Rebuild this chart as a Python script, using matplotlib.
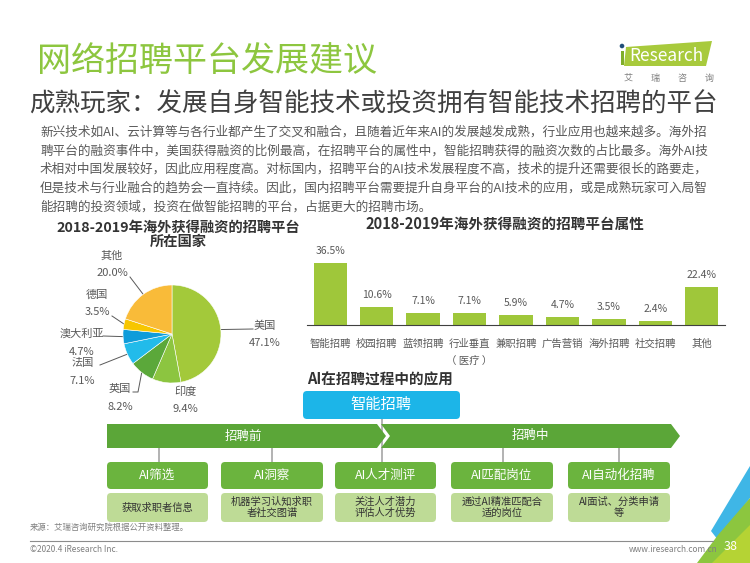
import numpy as np
import matplotlib
matplotlib.use("Agg")
import matplotlib.pyplot as plt
from matplotlib.patches import Polygon, FancyBboxPatch, Rectangle, Circle

plt.rcParams["font.family"] = ["Noto Sans CJK SC", "DejaVu Sans"]

# ---- data ----
title = "网络招聘平台发展建议"
subtitle = "成熟玩家：发展自身智能技术或投资拥有智能技术招聘的平台"
paragraph = [
    "新兴技术如AI、云计算等与各行业都产生了交叉和融合，且随着近年来AI的发展越发成熟，行业应用也越来越多。海外招",
    "聘平台的融资事件中，美国获得融资的比例最高，在招聘平台的属性中，智能招聘获得的融资次数的占比最多。海外AI技",
    "术相对中国发展较好，因此应用程度高。对标国内，招聘平台的AI技术发展程度不高，技术的提升还需要很长的路要走，",
    "但是技术与行业融合的趋势会一直持续。因此，国内招聘平台需要提升自身平台的AI技术的应用，或是成熟玩家可入局智",
    "能招聘的投资领域，投资在做智能招聘的平台，占据更大的招聘市场。",
]

pie_title = ["2018-2019年海外获得融资的招聘平台", "所在国家"]
pie_labels = ["美国", "印度", "英国", "法国", "澳大利亚", "德国", "其他"]
pie_values = [47.1, 9.4, 8.2, 7.1, 4.7, 3.5, 20.0]
pie_colors = ["#a3c93a", "#8cc540", "#5ba83a", "#22bbea", "#0f9cda", "#f7c600", "#f9bb39"]

bar_title = "2018-2019年海外获得融资的招聘平台属性"
bar_labels = ["智能招聘", "校园招聘", "蓝领招聘", "行业垂直\n（ 医疗 ）", "兼职招聘",
              "广告营销", "海外招聘", "社交招聘", "其他"]
bar_values = [36.5, 10.6, 7.1, 7.1, 5.9, 4.7, 3.5, 2.4, 22.4]

flow_title = "AI在招聘过程中的应用"
flow_top = "智能招聘"
phases = ["招聘前", "招聘中"]
steps = ["AI筛选", "AI洞察", "AI人才测评", "AI匹配岗位", "AI自动化招聘"]
step_desc = ["获取求职者信息", "机器学习认知求职\n者社交图谱", "关注人才潜力\n评估人才优势",
             "通过AI精准匹配合\n适的岗位", "AI面试、分类申请\n等"]

source = "来源：艾瑞咨询研究院根据公开资料整理。"
copyright_txt = "©2020.4 iResearch Inc."
website = "www.iresearch.com.cn"
page_no = "38"

W, H = 750, 563
fig = plt.figure(figsize=(W / 100, H / 100), dpi=100)
fig.patch.set_facecolor("white")

bg = fig.add_axes([0, 0, 1, 1])
bg.set_xlim(0, W)
bg.set_ylim(H, 0)
bg.axis("off")


def px_axes(x0, y0, x1, y1):
    # axes from pixel box (top-left origin)
    return fig.add_axes([x0 / W, 1 - y1 / H, (x1 - x0) / W, (y1 - y0) / H])


# ---- header ----
bg.text(37, 62, title, fontsize=24.5, color="#8dc63f", va="center", ha="left",
        fontweight="light")
bg.text(29, 105, subtitle, fontsize=18.4, color="#404040", va="center", ha="left",
        fontweight="light")
for i, line in enumerate(paragraph):
    bg.text(40, 132 + i * 18.8, line, fontsize=9.1, color="#595959", va="center", ha="left")

# logo
bg.add_patch(Polygon([(626, 47), (712, 41), (706, 66), (624, 66)], closed=True,
                     facecolor="#a8ca3c", edgecolor="none"))
bg.add_patch(Circle((622, 46), 2.3, facecolor="#1f4e79", edgecolor="none"))
bg.add_patch(Rectangle((620.5, 51), 3, 14, facecolor="#7fae2a", edgecolor="none"))
bg.text(629, 56, "Research", fontsize=12.5, color="white", va="center", ha="left")
for k, ch in enumerate("艾瑞咨询"):
    bg.text(628 + k * 27, 78, ch, fontsize=6.5, color="#7f7f7f", va="center", ha="center")

# ---- pie ----
cx, cy, r = 172, 334, 49
pax = px_axes(cx - r, cy - r, cx + r, cy + r)
wedges, _ = pax.pie(pie_values, colors=pie_colors, startangle=90, counterclock=False,
                    radius=1, wedgeprops=dict(linewidth=0.4, edgecolor="white"))
pax.set_xlim(-1, 1)
pax.set_ylim(-1, 1)
pax.axis("off")

bg.text(178, 228, pie_title[0], fontsize=10.3, fontweight="bold", color="#333333",
        ha="center", va="center")
bg.text(178, 242, pie_title[1], fontsize=10.3, fontweight="bold", color="#333333",
        ha="center", va="center")

label_pos = {
    "美国": (265, 326, 265, 343, (253, 329)),
    "印度": (185, 392, 185, 409, None),
    "英国": (120, 389, 120, 407, (133, 392)),
    "法国": (83, 363, 82, 381, (100, 365)),
    "澳大利亚": (82, 334, 82, 352, (103, 336)),
    "德国": (97, 295, 97, 312, (112, 316)),
    "其他": (112, 256, 112, 273, (130, 277)),
}
for w, lab, val in zip(wedges, pie_labels, pie_values):
    lx, ly, vx, vy, start = label_pos[lab]
    bg.text(lx, ly, lab, fontsize=8, color="#595959", ha="center", va="center")
    bg.text(vx, vy, f"{val:.1f}%", fontsize=8, color="#595959", ha="center", va="center")
    if start is not None:
        mid = np.deg2rad((w.theta1 + w.theta2) / 2)
        ex, ey = cx + r * np.cos(mid), cy - r * np.sin(mid)
        if lab == "英国":
            bg.plot([start[0], start[0] + 5, ex], [start[1], start[1], ey],
                    color="#595959", lw=0.7)
        else:
            bg.plot([start[0], ex], [start[1], ey], color="#595959", lw=0.7)

# ---- bar ----
bax = px_axes(307, 255, 725, 325)
xs = np.arange(len(bar_values))
bax.bar(xs, bar_values, width=0.72, color="#9fc73a")
bax.set_xlim(-0.5, len(bar_values) - 0.5)
bax.set_ylim(0, 36.5 * 70 / 62)
for x, v in zip(xs, bar_values):
    bax.annotate(f"{v:.1f}%", (x, v), xytext=(0, 5), textcoords="offset points",
                 ha="center", va="bottom", fontsize=7.5, color="#595959")
bax.set_xticks(xs)
bax.set_xticklabels(bar_labels, fontsize=7.5, color="#595959", linespacing=1.9)
bax.tick_params(axis="x", length=0, pad=10)
bax.set_yticks([])
for s in ["top", "right", "left"]:
    bax.spines[s].set_visible(False)
bax.spines["bottom"].set_color("#404040")
bax.spines["bottom"].set_linewidth(0.8)
bax.patch.set_alpha(0)

bg.text(505, 224, bar_title, fontsize=10.5, fontweight="bold", color="#333333",
        ha="center", va="center")

# ---- flow ----
bg.text(380, 379, flow_title, fontsize=10.5, fontweight="bold", color="#333333",
        ha="center", va="center")
bg.plot([382, 382], [418, 462], color="#a6a6a6", lw=1.2, zorder=1)
bg.add_patch(FancyBboxPatch((303, 391), 157, 28, boxstyle="round,pad=0,rounding_size=4",
                            facecolor="#1cb5e8", edgecolor="none", zorder=2))
bg.text(381, 405, flow_top, fontsize=11, color="white", ha="center", va="center", zorder=3)

band = "#5ba638"
bg.add_patch(Polygon([(107, 424), (377, 424), (386, 436), (377, 448), (107, 448)],
                     closed=True, facecolor=band, edgecolor="none", zorder=2))
bg.add_patch(Polygon([(381, 424), (671, 424), (680, 436), (671, 448), (381, 448), (390, 436)],
                     closed=True, facecolor=band, edgecolor="none", zorder=2))
bg.text(243, 436, phases[0], fontsize=9, color="white", ha="center", va="center", zorder=3)
bg.text(530, 436, phases[1], fontsize=9, color="white", ha="center", va="center", zorder=3)

box_x = [107, 221, 335, 451, 568]
box_w = [101, 102, 101, 102, 102]
conn_x = [159, 272, 382, 503, 619]
for i in range(len(steps)):
    if i != 2:
        bg.plot([conn_x[i], conn_x[i]], [448, 462], color="#a6a6a6", lw=1.2, zorder=1)
    bg.add_patch(FancyBboxPatch((box_x[i], 462), box_w[i], 27,
                                boxstyle="round,pad=0,rounding_size=4",
                                facecolor="#6bb43e", edgecolor="none", zorder=2))
    bg.text(box_x[i] + box_w[i] / 2, 475.5, steps[i], fontsize=9, color="white",
            ha="center", va="center", zorder=3)
    bg.add_patch(FancyBboxPatch((box_x[i], 493), box_w[i], 29,
                                boxstyle="round,pad=0,rounding_size=4",
                                facecolor="#bedb96", edgecolor="none", zorder=2))
    bg.text(box_x[i] + box_w[i] / 2, 507.5, step_desc[i], fontsize=7.4, color="#333333",
            ha="center", va="center", linespacing=1.1, zorder=3)

# ---- footer ----
bg.text(30, 527, source, fontsize=6, color="#7f7f7f", ha="left", va="center")
bg.plot([30, 713], [541, 541], color="#8c8c8c", lw=0.8)
bg.text(30, 549, copyright_txt, fontsize=6, color="#7f7f7f", ha="left", va="center")
bg.text(718, 549, website, fontsize=6, color="#7f7f7f", ha="right", va="center")

bg.add_patch(Polygon([(750, 466), (750, 498), (718, 540), (711, 531)], closed=True,
                     facecolor="#3fb6e6", edgecolor="none"))
bg.add_patch(Polygon([(750, 498), (750, 563), (697, 563), (718, 535)], closed=True,
                     facecolor="#8cc63f", edgecolor="none"))
bg.add_patch(Polygon([(750, 525), (750, 563), (712, 563)], closed=True,
                     facecolor="#b5d334", edgecolor="none"))
bg.text(731, 546, page_no, fontsize=9, color="white", ha="center", va="center")

fig.savefig("out.png", dpi=100, facecolor="white")
